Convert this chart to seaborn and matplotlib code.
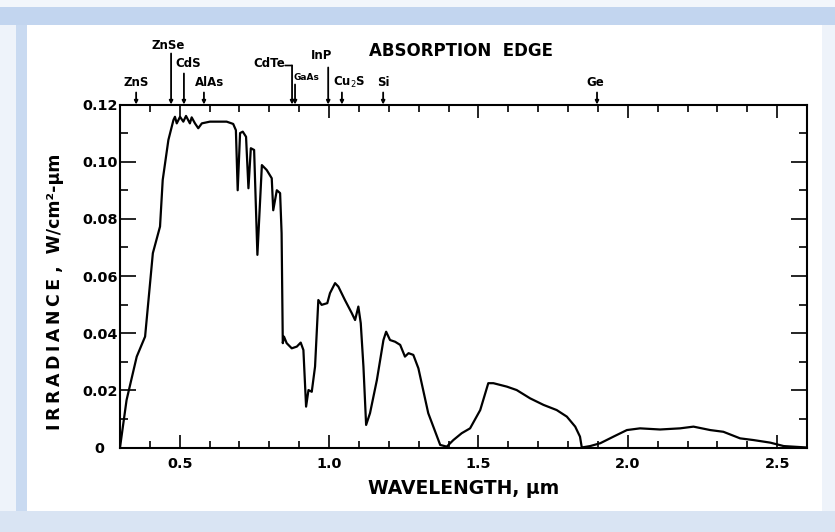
import matplotlib
matplotlib.use("Agg")
import matplotlib.pyplot as plt
import seaborn as sns
import pandas as pd
from matplotlib.patches import Rectangle
from matplotlib.ticker import FixedLocator, MultipleLocator

# ---------------- data ----------------
wavelength = [0.300, 0.322, 0.356, 0.384, 0.410, 0.434, 0.443, 0.462, 0.479, 0.484,
              0.490, 0.501, 0.512, 0.521, 0.534, 0.540, 0.551, 0.562, 0.574, 0.601,
              0.657, 0.679, 0.688, 0.694, 0.702, 0.711, 0.722, 0.730, 0.738, 0.749,
              0.760, 0.775, 0.791, 0.808, 0.813, 0.825, 0.836, 0.841, 0.845, 0.849,
              0.858, 0.875, 0.892, 0.905, 0.914, 0.923, 0.931, 0.942, 0.953, 0.964,
              0.975, 0.994, 1.003, 1.020, 1.031, 1.053, 1.076, 1.087, 1.098, 1.106,
              1.115, 1.124, 1.137, 1.160, 1.182, 1.191, 1.204, 1.221, 1.238, 1.254,
              1.266, 1.282, 1.299, 1.332, 1.372, 1.394, 1.416, 1.444, 1.472, 1.506,
              1.533, 1.550, 1.595, 1.628, 1.673, 1.718, 1.762, 1.796, 1.824, 1.840,
              1.846, 1.874, 1.908, 1.952, 1.997, 2.041, 2.108, 2.175, 2.220, 2.276,
              2.320, 2.376, 2.421, 2.477, 2.522, 2.600]
irradiance = [0.0000, 0.0166, 0.0318, 0.0388, 0.0680, 0.0773, 0.0936, 0.1076, 0.1146, 0.1157,
              0.1134, 0.1157, 0.1140, 0.1160, 0.1134, 0.1155, 0.1134, 0.1117, 0.1134, 0.1140,
              0.1140, 0.1132, 0.1110, 0.0900, 0.1100, 0.1105, 0.1087, 0.0907, 0.1047, 0.1041,
              0.0674, 0.0988, 0.0971, 0.0942, 0.0830, 0.0900, 0.0890, 0.0750, 0.0365, 0.0388,
              0.0365, 0.0347, 0.0353, 0.0367, 0.0341, 0.0143, 0.0201, 0.0195, 0.0283, 0.0516,
              0.0499, 0.0505, 0.0540, 0.0575, 0.0563, 0.0516, 0.0470, 0.0446, 0.0493, 0.0435,
              0.0283, 0.0079, 0.0120, 0.0236, 0.0376, 0.0405, 0.0376, 0.0370, 0.0359, 0.0318,
              0.0330, 0.0324, 0.0277, 0.0120, 0.0009, 0.0003, 0.0026, 0.0050, 0.0067, 0.0131,
              0.0225, 0.0225, 0.0213, 0.0201, 0.0172, 0.0149, 0.0131, 0.0108, 0.0073, 0.0038,
              0.0000, 0.0005, 0.0015, 0.0038, 0.0061, 0.0067, 0.0063, 0.0067, 0.0073, 0.0061,
              0.0055, 0.0032, 0.0026, 0.0017, 0.0005, 0.0000]

edge_materials = ["ZnS", "ZnSe", "CdS", "AlAs", "CdTe", "GaAs", "InP", "Cu$_2$S", "Si", "Ge"]
edge_wavelengths = [0.354, 0.471, 0.514, 0.581, 0.876, 0.886, 0.997, 1.043, 1.181, 1.897]

x_ticks = [0.5, 1.0, 1.5, 2.0, 2.5]
x_tick_labels = ["0.5", "1.0", "1.5", "2.0", "2.5"]
y_ticks = [0.0, 0.02, 0.04, 0.06, 0.08, 0.10, 0.12]
y_tick_labels = ["0", "0.02", "0.04", "0.06", "0.08", "0.10", "0.12"]

# layout for edge labels: (text dx px, text height px above axis, line top px, ha, fontsize)
edge_layout = {
    "ZnS": (0, 22, 12, "center", 8.5),
    "ZnSe": (-3, 59, 51, "center", 8.5),
    "CdS": (4, 41, 31, "center", 8.5),
    "AlAs": (6, 22, 12, "center", 8.5),
    "CdTe": (-7, 41, 39, "right", 8.5),
    "GaAs": (-2, 27, 20, "left", 6.5),
    "InP": (-7, 49, 37, "center", 8.5),
    "Cu$_2$S": (7, 22, 12, "center", 8.5),
    "Si": (0, 22, 12, "center", 8.5),
    "Ge": (-2, 22, 12, "center", 8.5),
}

# ---------------- figure ----------------
sns.set_theme(style="white")
plt.rcParams["font.family"] = ["DejaVu Sans"]

W, H = 835, 532
DPI = 100
PT = 72 / DPI
fig = plt.figure(figsize=(W / DPI, H / DPI), dpi=DPI, facecolor="#dce6f4")


def px_rect(x0, y0, x1, y1, color):
    fig.add_artist(Rectangle((x0 / W, 1 - y1 / H), (x1 - x0) / W, (y1 - y0) / H,
                             transform=fig.transFigure, facecolor=color,
                             edgecolor="none", zorder=-10))


px_rect(0, 0, W, 7, "#f2f6fb")
px_rect(0, 7, W, 25, "#c2d5ef")
px_rect(0, 25, 16, H, "#eef3fa")
px_rect(16, 25, 27, 511, "#c9daf1")
px_rect(27, 25, 822, 511, "#ffffff")
px_rect(822, 25, W, 511, "#eef3fa")
px_rect(0, 511, W, H, "#d9e4f3")

ax_left, ax_right, ax_top, ax_bottom = 120, 807, 104.5, 447.5
ax_h = ax_bottom - ax_top
ax = fig.add_axes([ax_left / W, 1 - ax_bottom / H, (ax_right - ax_left) / W, ax_h / H])
ax.set_facecolor("white")

df = pd.DataFrame({"wavelength": wavelength, "irradiance": irradiance})
sns.lineplot(data=df, x="wavelength", y="irradiance", ax=ax, color="black",
             linewidth=1.6, sort=False, estimator=None)

ax.set_xlim(0.3, 2.6)
ax.set_ylim(0, 0.12)

bold = dict(fontweight="bold", color="black")

ax.xaxis.set_major_locator(FixedLocator(x_ticks))
ax.set_xticklabels(x_tick_labels, fontsize=10.4, **bold)
ax.xaxis.set_minor_locator(MultipleLocator(0.1))
ax.yaxis.set_major_locator(FixedLocator(y_ticks))
ax.set_yticklabels(y_tick_labels, fontsize=10.4, ha="center", **bold)
ax.yaxis.set_minor_locator(MultipleLocator(0.01))

ax.tick_params(axis="x", which="both", direction="in", top=True, bottom=True,
               width=1.2, color="black")
ax.tick_params(axis="x", which="major", length=9.5, pad=7)
ax.tick_params(axis="x", which="minor", length=5)
ax.tick_params(axis="y", which="both", direction="in", left=True, right=True,
               width=1.2, color="black")
ax.tick_params(axis="y", which="major", length=11.5, pad=14.5)
ax.tick_params(axis="y", which="minor", length=5.8)

for s in ax.spines.values():
    s.set_color("black")
    s.set_linewidth(1.5)

ax.set_xlabel("WAVELENGTH, \u03bcm", fontsize=13.5, **bold)
ax.xaxis.set_label_coords(0.5, -(489 - ax_bottom) / ax_h)
ax.xaxis.label.set_va("center")

ts = "\u2009"
ax.set_ylabel(ts.join("IRRADIANCE") + " ,  W/cm\u00b2-\u03bcm", fontsize=12.5, **bold)
ax.yaxis.set_label_coords(-(120 - 55) / (ax_right - ax_left), (ax_bottom - 292) / ax_h)
ax.yaxis.label.set_va("center")

fig.text(461 / W, 1 - 51 / H, "ABSORPTION  EDGE", ha="center", va="center",
         fontsize=12, **bold)

# absorption edge markers
trans = ax.get_xaxis_transform()
for name, edge in zip(edge_materials, edge_wavelengths):
    dx, ty, ly, ha, fs = edge_layout[name]
    ax.annotate("", xy=(edge, 1.0), xycoords=trans,
                xytext=(edge, 1 + ly / ax_h), textcoords=trans,
                arrowprops=dict(arrowstyle="-|>", color="black", lw=1.3,
                                mutation_scale=5, shrinkA=0, shrinkB=0),
                annotation_clip=False)
    ax.annotate(name, xy=(edge, 1.0), xycoords=trans,
                xytext=(dx * PT, ty * PT), textcoords="offset points",
                ha=ha, va="center", fontsize=fs, annotation_clip=False, **bold)
    if name == "CdTe":
        # short leader from the label to the top of its marker line
        ax.annotate("", xy=(edge, 1 + ly / ax_h), xycoords=trans,
                    xytext=(dx * PT, 0), textcoords="offset points",
                    arrowprops=dict(arrowstyle="-", color="black", lw=1.2,
                                    shrinkA=0, shrinkB=0),
                    annotation_clip=False)

fig.savefig("out.png", dpi=DPI, facecolor=fig.get_facecolor())
